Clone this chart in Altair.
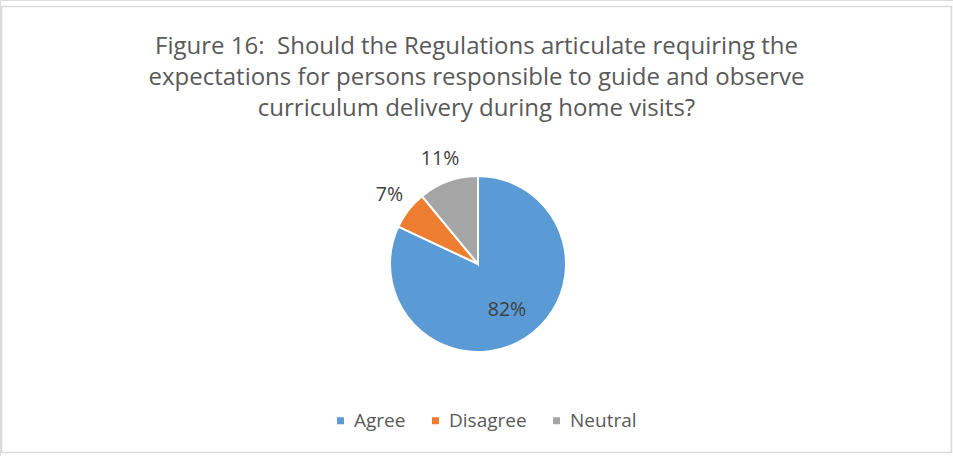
import altair as alt
import pandas as pd

categories = ["Agree", "Disagree", "Neutral"]
values = [82, 7, 11]
labels = ["82%", "7%", "11%"]
colors = ["#5B9BD5", "#ED7D31", "#A5A5A5"]
title_lines = [
    "Figure 16:\u00a0 Should the Regulations articulate requiring the",
    "expectations for persons responsible to guide and observe",
    "curriculum delivery during home visits?",
]

df = pd.DataFrame({"cat": categories, "val": values, "lab": labels,
                   "ord": list(range(len(categories)))})

FONT = "Open Sans"
W, H = 953, 456
CX, CY, R = 478, 264, 88

base = alt.Chart(df).encode(
    theta=alt.Theta("val:Q", stack=True),
    order=alt.Order("ord:Q"),
)

border = alt.Chart(df).mark_rect(fill=None, stroke="#D9D9D9", strokeWidth=1.5).encode(
    x=alt.value(1.5), x2=alt.value(951.5), y=alt.value(6.5), y2=alt.value(452.5)
).transform_filter(alt.datum.ord == 0)

pie = base.mark_arc(outerRadius=R, stroke="white", strokeWidth=2).encode(
    x=alt.value(CX), y=alt.value(CY),
    color=alt.Color("cat:N", sort=categories,
                    scale=alt.Scale(domain=categories, range=colors),
                    legend=alt.Legend(title=None, orient="none", direction="horizontal",
                                      legendX=331, legendY=411,
                                      symbolType="square", symbolSize=49,
                                      labelFont=FONT, labelFontSize=19,
                                      labelColor="#595959", columnPadding=20,
                                      symbolStrokeWidth=0, labelOffset=4)),
)

inner = base.mark_text(radius=54, font=FONT, fontSize=19.5, color="#404040").encode(
    x=alt.value(CX), y=alt.value(CY),
    text=alt.condition(alt.datum.ord == 0, "lab:N", alt.value("")),
)

outer = base.mark_text(radius=112, font=FONT, fontSize=19.5, color="#404040").encode(
    x=alt.value(CX), y=alt.value(CY),
    text=alt.condition(alt.datum.ord > 0, "lab:N", alt.value("")),
)

title = alt.Chart(df).mark_text(font=FONT, fontSize=24, color="#595959",
                                lineHeight=31, baseline="alphabetic", align="center").encode(
    x=alt.value(W / 2), y=alt.value(54), text=alt.value(title_lines)
).transform_filter(alt.datum.ord == 0)

chart = alt.layer(border, pie, inner, outer, title).properties(
    width=W, height=H, autosize=alt.AutoSizeParams(type="none"), padding=0
).configure_view(stroke=None).configure(background="white")

chart.save("out.html", embed_options={"renderer": "svg", "actions": False})
